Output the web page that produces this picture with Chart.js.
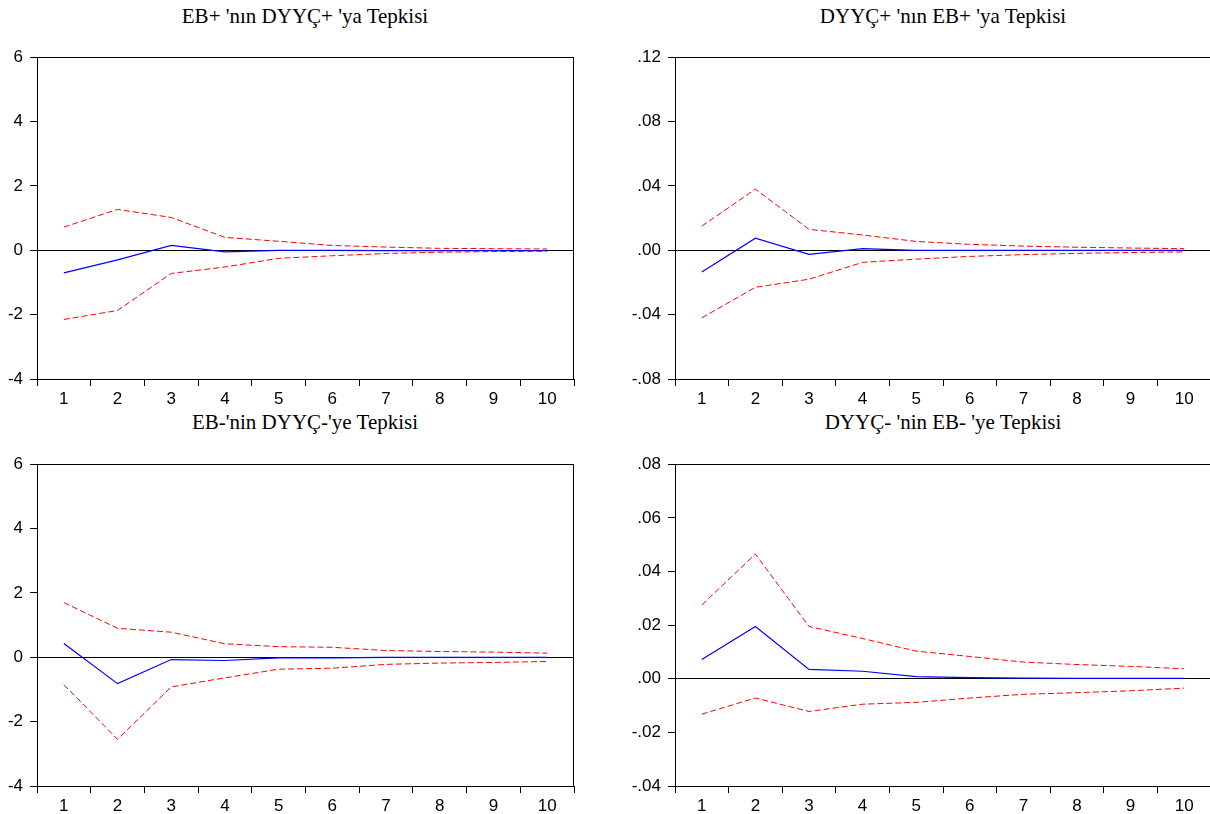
<!DOCTYPE html>
<html lang="tr">
<head>
  <meta charset="UTF-8">
  <title>Etki-Tepki Fonksiyonları</title>
  <script src="https://cdn.jsdelivr.net/npm/chart.js"></script>
  <style>
    html, body {
      margin: 0;
      padding: 0;
      background: #fff;
      overflow: hidden;
      width: 1210px;
      height: 814px;
    }
    .panel {
      position: absolute;
    }
    .title {
      position: absolute;
      width: 500px;
      text-align: center;
      font-family: 'Liberation Serif', 'Times New Roman', serif;
      font-size: 21px;
      color: #000;
      white-space: nowrap;
    }
  </style>
</head>
<body>
  <div class="title" style="left:55px; top:4px;">EB+ 'nın DYYÇ+ 'ya Tepkisi</div>
  <div class="title" style="left:693px; top:4px;">DYYÇ+ 'nın EB+ 'ya Tepkisi</div>
  <div class="title" style="left:55px; top:410px;">EB-'nin DYYÇ-'ye Tepkisi</div>
  <div class="title" style="left:693px; top:410px;">DYYÇ- 'nin EB- 'ye Tepkisi</div>

  <div class="panel" style="left:0px; top:40px;"><canvas id="c1" width="600" height="380"></canvas></div>
  <div class="panel" style="left:605px; top:40px;"><canvas id="c2" width="610" height="380"></canvas></div>
  <div class="panel" style="left:0px; top:447px;"><canvas id="c3" width="600" height="380"></canvas></div>
  <div class="panel" style="left:605px; top:447px;"><canvas id="c4" width="610" height="380"></canvas></div>

  <script>
    // periods
    const steps = ['1', '2', '3', '4', '5', '6', '7', '8', '9', '10'];

    // EB+ response to DYYC+
    const p1Resp  = [-0.70, -0.30, 0.15, -0.05, 0.00, 0.00, -0.01, -0.01, -0.01, -0.01];
    const p1Upper = [0.72, 1.27, 1.02, 0.40, 0.28, 0.15, 0.10, 0.06, 0.05, 0.04];
    const p1Lower = [-2.15, -1.87, -0.72, -0.52, -0.25, -0.17, -0.10, -0.06, -0.04, -0.03];

    // DYYC+ response to EB+
    const p2Resp  = [-0.0135, 0.0075, -0.0025, 0.0010, 0.0000, 0.0000, 0.0000, 0.0000, 0.0000, 0.0000];
    const p2Upper = [0.0150, 0.0380, 0.0130, 0.0095, 0.0055, 0.0037, 0.0026, 0.0019, 0.0014, 0.0010];
    const p2Lower = [-0.0420, -0.0230, -0.0180, -0.0075, -0.0055, -0.0038, -0.0027, -0.0019, -0.0014, -0.0010];

    // EB- response to DYYC-
    const p3Resp  = [0.43, -0.82, -0.07, -0.10, -0.02, -0.02, 0.00, 0.00, 0.00, 0.00];
    const p3Upper = [1.70, 0.90, 0.78, 0.42, 0.33, 0.31, 0.21, 0.18, 0.16, 0.13];
    const p3Lower = [-0.85, -2.55, -0.92, -0.64, -0.37, -0.34, -0.22, -0.18, -0.16, -0.13];

    // DYYC- response to EB-
    const p4Resp  = [0.0072, 0.0195, 0.0035, 0.0028, 0.0008, 0.0004, 0.0002, 0.0001, 0.0001, 0.0001];
    const p4Upper = [0.0275, 0.0465, 0.0195, 0.0150, 0.0103, 0.0083, 0.0062, 0.0053, 0.0046, 0.0037];
    const p4Lower = [-0.0132, -0.0072, -0.0122, -0.0095, -0.0088, -0.0072, -0.0058, -0.0052, -0.0045, -0.0035];

    const tickFont = { family: "'Liberation Sans', Arial, sans-serif", size: 17 };

    // box around the plot area
    const framePlugin = {
      id: 'frame',
      afterDraw(chart) {
        const a = chart.chartArea, ctx = chart.ctx;
        ctx.save();
        ctx.strokeStyle = '#000';
        ctx.lineWidth = 1;
        ctx.strokeRect(Math.round(a.left) + 0.5, Math.round(a.top) + 0.5,
                       Math.round(a.right - a.left) - 1, Math.round(a.bottom - a.top));
        ctx.restore();
      }
    };

    function fmtInt(v) { return String(Math.round(v)); }
    function fmtDec(v) {
      let s = v.toFixed(2);
      if (Math.abs(v) < 1e-9) s = '0.00';
      return s.replace(/^-0\./, '-.').replace(/^0\./, '.');
    }

    function makeChart(id, resp, upper, lower, yMin, yMax, step, fmt, axisW, padRight) {
      new Chart(document.getElementById(id), {
        type: 'line',
        data: {
          labels: steps,
          datasets: [
            { data: upper, borderColor: '#FF0000', borderWidth: 1, borderDash: [6, 3], pointRadius: 0, tension: 0 },
            { data: lower, borderColor: '#FF0000', borderWidth: 1, borderDash: [6, 3], pointRadius: 0, tension: 0 },
            { data: resp, borderColor: '#0000FF', borderWidth: 1.2, pointRadius: 0, tension: 0 }
          ]
        },
        options: {
          responsive: false,
          animation: false,
          layout: { padding: { top: 16, right: padRight, bottom: 0, left: 0 } },
          plugins: { legend: { display: false }, tooltip: { enabled: false } },
          scales: {
            x: {
              type: 'category',
              offset: true,
              grid: { offset: true, drawOnChartArea: false, color: '#000', tickColor: '#000', tickLength: 7 },
              border: { display: true, color: '#000' },
              ticks: { color: '#000', font: tickFont, padding: 3, maxRotation: 0, autoSkip: false },
              afterFit(s) { s.height = 41; }
            },
            y: {
              min: yMin,
              max: yMax,
              grid: {
                color: c => (c.tick && Math.abs(c.tick.value) < 1e-9) ? '#000' : 'rgba(0,0,0,0)',
                tickColor: '#000',
                tickLength: 7
              },
              border: { display: true, color: '#000' },
              ticks: { stepSize: step, color: '#000', font: tickFont, padding: 7, callback: v => fmt(v) },
              afterFit(s) { s.width = axisW; }
            }
          }
        },
        plugins: [framePlugin]
      });
    }

    makeChart('c1', p1Resp, p1Upper, p1Lower, -4, 6, 2, fmtInt, 37, 26);
    makeChart('c2', p2Resp, p2Upper, p2Lower, -0.08, 0.12, 0.04, fmtDec, 70, 4);
    makeChart('c3', p3Resp, p3Upper, p3Lower, -4, 6, 2, fmtInt, 37, 26);
    makeChart('c4', p4Resp, p4Upper, p4Lower, -0.04, 0.08, 0.02, fmtDec, 70, 4);
  </script>
</body>
</html>
